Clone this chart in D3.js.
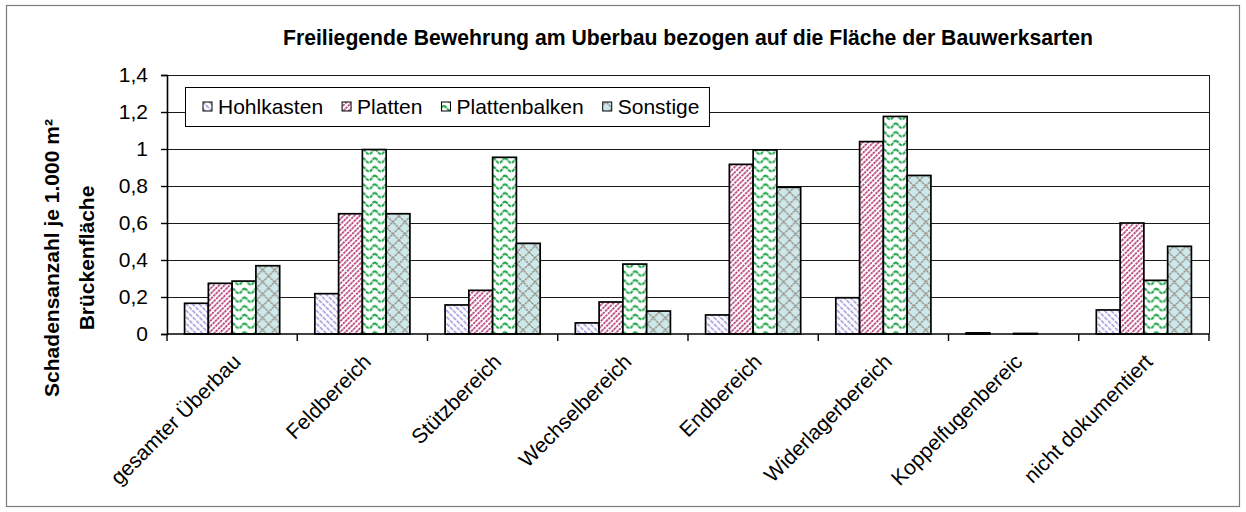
<!DOCTYPE html>
<html>
<head>
<meta charset="utf-8">
<script src="https://cdn.jsdelivr.net/npm/d3@7"></script>
<style>
  html, body { margin: 0; padding: 0; background: #fff; }
  svg { display: block; font-family: Arial, "Liberation Sans", sans-serif; }
</style>
</head>
<body>
<svg id="chart" width="1246" height="512"></svg>
<script>
// Freiliegende Bewehrung – damage counts per 1,000 m² of bridge deck area
const chartTitle = "Freiliegende Bewehrung am Uberbau bezogen auf die Fläche der Bauwerksarten";
const yTitleLines = ["Schadensanzahl je 1.000 m²", "Brückenfläche"];

const categories = [
  "gesamter Überbau", "Feldbereich", "Stützbereich", "Wechselbereich",
  "Endbereich", "Widerlagerbereich", "Koppelfugenbereic", "nicht dokumentiert"
];
const seriesNames = ["Hohlkasten", "Platten", "Plattenbalken", "Sonstige"];

const hohlkasten    = [0.166, 0.218, 0.157, 0.060, 0.103, 0.196, 0.006, 0.130];
const platten       = [0.274, 0.650, 0.236, 0.173, 0.917, 1.040, 0.000, 0.600];
const plattenbalken = [0.286, 0.997, 0.955, 0.378, 0.995, 1.176, 0.003, 0.290];
const sonstige      = [0.369, 0.650, 0.490, 0.124, 0.793, 0.857, 0.000, 0.474];

const yTickValues = [0, 0.2, 0.4, 0.6, 0.8, 1, 1.2, 1.4];
const yTickLabels = ["0", "0,2", "0,4", "0,6", "0,8", "1", "1,2", "1,4"];

const seriesValues = [hohlkasten, platten, plattenbalken, sonstige];

// ---- layout ----
const plot = { left: 167, right: 1209, top: 75, bottom: 334 };
const svg = d3.select("#chart");

// ---- fill patterns ----
const defs = svg.append("defs");

function stripePattern(id, angle, spacing, color, width, dash) {
  const p = defs.append("pattern").attr("id", id)
    .attr("patternUnits", "userSpaceOnUse")
    .attr("width", spacing).attr("height", 10)
    .attr("patternTransform", `rotate(${angle})`);
  p.append("rect").attr("width", spacing).attr("height", 10).attr("fill", "#fff");
  p.append("line").attr("x1", spacing / 2).attr("x2", spacing / 2)
    .attr("y1", 0).attr("y2", 10)
    .attr("stroke", color).attr("stroke-width", width)
    .attr("stroke-dasharray", dash);
}
stripePattern("pat-hohl", -45, 4.6, "#9c94d8", 1.5, "4 1");
stripePattern("pat-platten", 45, 3.8, "#a81c62", 1.5, "2.5 0.8");

const wave = defs.append("pattern").attr("id", "pat-balken")
  .attr("patternUnits", "userSpaceOnUse").attr("width", 12).attr("height", 8.7);
wave.append("rect").attr("width", 12).attr("height", 8.7).attr("fill", "#fff");
wave.append("path")
  .attr("d", "M0,1.5 C2.5,1.5 3,6.2 6,6.2 C9,6.2 9.5,1.5 12,1.5")
  .attr("fill", "none").attr("stroke", "#1ea649").attr("stroke-width", 2.1)
  .attr("stroke-dasharray", "3.5 0.8");

const lattice = defs.append("pattern").attr("id", "pat-sonst")
  .attr("patternUnits", "userSpaceOnUse").attr("width", 12).attr("height", 12);
lattice.append("rect").attr("width", 12).attr("height", 12).attr("fill", "#cde8ea");
lattice.append("path").attr("d", "M0,0 L12,12 M12,0 L0,12")
  .attr("stroke", "#968e82").attr("stroke-width", 1.4).attr("stroke-dasharray", "2.4 0.8");

const seriesFill = d3.scaleOrdinal()
  .domain(seriesNames)
  .range(["url(#pat-hohl)", "url(#pat-platten)", "url(#pat-balken)", "url(#pat-sonst)"]);

// ---- outer frame ----
svg.append("rect").attr("x", 6.5).attr("y", 5.5).attr("width", 1233).attr("height", 501)
  .attr("fill", "#fff").attr("stroke", "#7a7a7a").attr("stroke-width", 1.2);

// ---- scales ----
const x0 = d3.scaleBand().domain(categories)
  .range([plot.left, plot.right]).paddingInner(0.27).paddingOuter(0.135);
const x1 = d3.scaleBand().domain(seriesNames).range([0, x0.bandwidth()]);
const y = d3.scaleLinear().domain([0, 1.4]).range([plot.bottom, plot.top]);

// ---- gridlines ----
svg.append("g").selectAll("line").data(yTickValues.filter(v => v > 0)).join("line")
  .attr("x1", plot.left).attr("x2", plot.right)
  .attr("y1", d => Math.round(y(d)) + 0.5).attr("y2", d => Math.round(y(d)) + 0.5)
  .attr("stroke", "#1a1a1a").attr("stroke-width", 1);

// right edge of the plot area
svg.append("line").attr("x1", plot.right + 0.5).attr("x2", plot.right + 0.5)
  .attr("y1", y(1.4)).attr("y2", plot.bottom)
  .attr("stroke", "#1a1a1a").attr("stroke-width", 1);

// ---- bars ----
const groups = svg.append("g").selectAll("g").data(categories).join("g")
  .attr("transform", c => `translate(${x0(c)},0)`);
groups.selectAll("rect")
  .data((c, i) => seriesNames.map((s, k) => ({ s, v: seriesValues[k][i] })))
  .join("rect")
  .attr("x", d => x1(d.s))
  .attr("y", d => y(d.v))
  .attr("width", x1.bandwidth())
  .attr("height", d => y(0) - y(d.v))
  .attr("fill", d => seriesFill(d.s))
  .attr("stroke", "#000").attr("stroke-width", 1.7);

// ---- y axis ----
const yAxis = d3.axisLeft(y).tickValues(yTickValues)
  .tickFormat((d, i) => yTickLabels[i]).tickSize(6).tickPadding(13);
const gy = svg.append("g").attr("transform", `translate(${plot.left},0)`).call(yAxis);
gy.select(".domain").attr("stroke", "#000").attr("stroke-width", 1.6);
gy.selectAll(".tick line").attr("stroke", "#000").attr("stroke-width", 1.4);
gy.selectAll(".tick text").attr("font-size", 21).attr("fill", "#000")
  .attr("font-family", "Arial, 'Liberation Sans', sans-serif");

// ---- x axis with ticks between categories ----
const step = x0.step();
const boundaries = d3.range(categories.length + 1).map(i => plot.left + i * step);
const gx = svg.append("g");
gx.append("line").attr("x1", plot.left).attr("x2", plot.right)
  .attr("y1", plot.bottom).attr("y2", plot.bottom)
  .attr("stroke", "#000").attr("stroke-width", 1.6);
gx.selectAll("line.tk").data(boundaries).join("line").attr("class", "tk")
  .attr("x1", d => d).attr("x2", d => d)
  .attr("y1", plot.bottom).attr("y2", plot.bottom + 7)
  .attr("stroke", "#000").attr("stroke-width", 1.4);
gx.selectAll("text").data(categories).join("text")
  .attr("transform", c => `translate(${x0(c) + x0.bandwidth() / 2 + 10},${plot.bottom + 29}) rotate(-45)`)
  .attr("text-anchor", "end")
  .attr("font-size", 21).attr("fill", "#000")
  .text(c => c);

// ---- titles ----
svg.append("text").attr("x", 688).attr("y", 45)
  .attr("text-anchor", "middle").attr("font-size", 21.2).attr("font-weight", "bold")
  .text(chartTitle);

svg.append("g").selectAll("text").data(yTitleLines).join("text")
  .attr("transform", (d, i) => `translate(${59 + i * 35},258) rotate(-90)`)
  .attr("text-anchor", "middle").attr("font-size", 21).attr("font-weight", "bold")
  .text(d => d);

// ---- legend ----
const legend = svg.append("g");
const legendBox = legend.append("rect")
  .attr("x", 185.5).attr("y", 87.5).attr("height", 39)
  .attr("fill", "#fff").attr("stroke", "#000").attr("stroke-width", 1);
let lx = 203;
seriesNames.forEach(s => {
  legend.append("rect").attr("x", lx).attr("y", 102).attr("width", 9).attr("height", 9)
    .attr("fill", seriesFill(s)).attr("stroke", "#000").attr("stroke-width", 1);
  const t = legend.append("text").attr("x", lx + 15).attr("y", 114)
    .attr("font-size", 21).attr("fill", "#000").text(s);
  lx += 15 + t.node().getComputedTextLength() + 19;
});
legendBox.attr("width", lx - 19 + 10 - 185.5);
</script>
</body>
</html>
